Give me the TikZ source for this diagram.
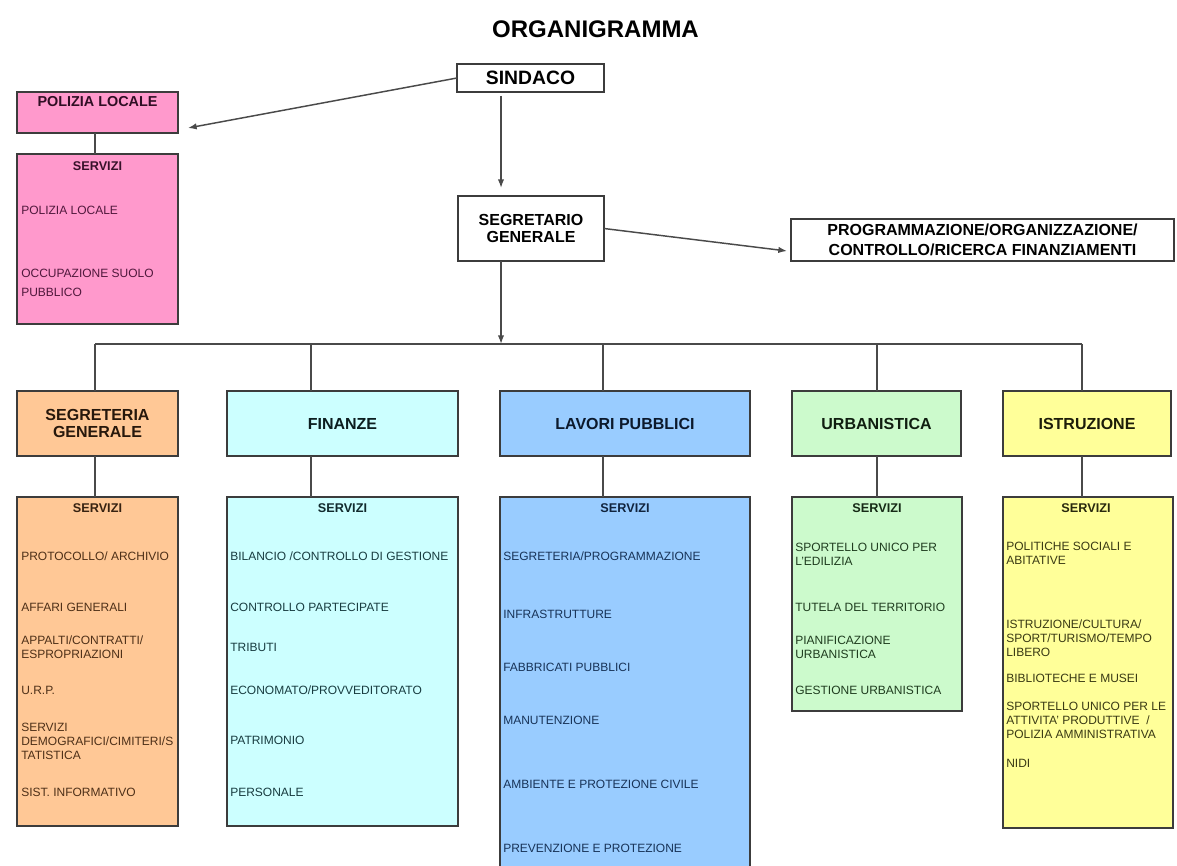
\documentclass[tikz,border=0pt]{standalone}
\usepackage{fontspec}
\setmainfont{Liberation Sans}
\usetikzlibrary{arrows.meta,calc}
\definecolor{pinkF}{HTML}{FF99CC}
\definecolor{orangeF}{HTML}{FFC896}
\definecolor{cyanF}{HTML}{CCFFFF}
\definecolor{blueF}{HTML}{99CCFF}
\definecolor{greenF}{HTML}{CCFACC}
\definecolor{yellowF}{HTML}{FFFF99}
\definecolor{pinkT}{HTML}{50183C}
\definecolor{orangeT}{HTML}{4E3018}
\definecolor{cyanT}{HTML}{183C40}
\definecolor{blueT}{HTML}{183358}
\definecolor{greenT}{HTML}{1F3C1F}
\definecolor{yellowT}{HTML}{3A3A14}
\definecolor{edgec}{HTML}{3C3C3C}
\definecolor{wirec}{HTML}{4A4A4A}
\newcommand\mkbox[8]{%
  \node[boxst, fill=#6, minimum width={(#4-#2)*0.75pt}, minimum height={(#5-#3)*0.75pt}, #7]
    (#1) at ({(#2+#4)/2},{(#3+#5)/2}) {#8};}
\begin{document}
\begin{tikzpicture}[x=0.75pt,y=-0.75pt,
  boxst/.style={draw=edgec, line width=1.2pt, inner sep=0pt, outer sep=0pt},
  wirest/.style={draw=wirec, line width=1.1pt},
  arr/.style={wirest, -{Latex[length=6.5pt,width=4.8pt]}},
  hdr/.style={font=\bfseries\fontsize{12}{12.75}\selectfont, align=center},
  serv/.style={inner sep=0pt, font=\bfseries\fontsize{9.5}{11}\selectfont},
  item/.style={anchor=west, inner sep=0pt, align=left, font=\fontsize{9}{10.5}\selectfont}]
\useasboundingbox (0,0) rectangle (1177,866);
\fill[white] (0,0) rectangle (1177,866);
\clip (0,0) rectangle (1177,866);

% title
\node[font=\bfseries\fontsize{18}{20}\selectfont, inner sep=0pt] (title) at (595.5,29) {ORGANIGRAMMA};

% top level
\mkbox{sind}{457}{64}{604}{92}{white}{font=\bfseries\fontsize{14.5}{16}\selectfont}{SINDACO}
\mkbox{segr}{458}{196}{604}{261}{white}{hdr}{SEGRETARIO\\GENERALE}
\mkbox{prog}{791}{219}{1174}{261}{white}{hdr, font=\bfseries\fontsize{12}{15}\selectfont}{PROGRAMMAZIONE/ORGANIZZAZIONE/\\CONTROLLO/RICERCA FINANZIAMENTI}

% polizia locale
\mkbox{pol}{17}{92}{178}{133}{pinkF}{}{}
\node[font=\bfseries\fontsize{10.8}{12}\selectfont, text=pinkT!60!black, inner sep=0pt] (polt) at (97.5,102) {POLIZIA LOCALE};
\mkbox{pols}{17}{154}{178}{324}{pinkF}{}{}
\node[serv, text=pinkT!70!black] (polsh) at (97.5,166) {SERVIZI};
\node[item, text=pinkT] (pol1) at (21,210) {POLIZIA LOCALE};
\node[item, text=pinkT] (pol2) at (21,273) {OCCUPAZIONE SUOLO};
\node[item, text=pinkT] (pol3) at (21,292) {PUBBLICO};

% departments
\mkbox{sg}{17}{391}{178}{456}{orangeF}{hdr, text=orangeT!50!black, font=\bfseries\fontsize{12}{12.5}\selectfont}{SEGRETERIA\\GENERALE}
\mkbox{fin}{227}{391}{458}{456}{cyanF}{hdr, text=cyanT!50!black}{FINANZE}
\mkbox{lav}{500}{391}{750}{456}{blueF}{hdr, text=blueT!50!black}{LAVORI PUBBLICI}
\mkbox{urb}{792}{391}{961}{456}{greenF}{hdr, text=greenT!50!black}{URBANISTICA}
\mkbox{ist}{1003}{391}{1171}{456}{yellowF}{hdr, text=yellowT!50!black}{ISTRUZIONE}

% service boxes
\mkbox{sgs}{17}{497}{178}{826}{orangeF}{}{}
\mkbox{fins}{227}{497}{458}{826}{cyanF}{}{}
\mkbox{lavs}{500}{497}{750}{890}{blueF}{}{}
\mkbox{urbs}{792}{497}{962}{711}{greenF}{}{}
\mkbox{ists}{1003}{497}{1173}{828}{yellowF}{}{}

% segreteria generale services
\node[serv, text=orangeT!70!black] (sgh) at (97.5,508) {SERVIZI};
\node[item, text=orangeT] (sg1) at (21,556) {PROTOCOLLO/ ARCHIVIO};
\node[item, text=orangeT] (sg2) at (21,607) {AFFARI GENERALI};
\node[item, text=orangeT] (sg3) at (21,647) {APPALTI/CONTRATTI/\\ESPROPRIAZIONI};
\node[item, text=orangeT] (sg4) at (21,690) {U.R.P.};
\node[item, text=orangeT] (sg5) at (21,741) {SERVIZI\\DEMOGRAFICI/CIMITERI/S\\TATISTICA};
\node[item, text=orangeT] (sg6) at (21,792) {SIST. INFORMATIVO};

% finanze services
\node[serv, text=cyanT!70!black] (finh) at (342.5,508) {SERVIZI};
\node[item, text=cyanT] (fin1) at (230,556) {BILANCIO /CONTROLLO DI GESTIONE};
\node[item, text=cyanT] (fin2) at (230,607) {CONTROLLO PARTECIPATE};
\node[item, text=cyanT] (fin3) at (230,647) {TRIBUTI};
\node[item, text=cyanT] (fin4) at (230,690) {ECONOMATO/PROVVEDITORATO};
\node[item, text=cyanT] (fin5) at (230,740) {PATRIMONIO};
\node[item, text=cyanT] (fin6) at (230,792) {PERSONALE};

% lavori pubblici services
\node[serv, text=blueT!70!black] (lavh) at (625,508) {SERVIZI};
\node[item, text=blueT] (lav1) at (503,556) {SEGRETERIA/PROGRAMMAZIONE};
\node[item, text=blueT] (lav2) at (503,614) {INFRASTRUTTURE};
\node[item, text=blueT] (lav3) at (503,667) {FABBRICATI PUBBLICI};
\node[item, text=blueT] (lav4) at (503,720) {MANUTENZIONE};
\node[item, text=blueT] (lav5) at (503,784) {AMBIENTE E PROTEZIONE CIVILE};
\node[item, text=blueT] (lav6) at (503,848) {PREVENZIONE E PROTEZIONE};

% urbanistica services
\node[serv, text=greenT!70!black] (urbh) at (877,508) {SERVIZI};
\node[item, text=greenT] (urb1) at (795,554.5) {SPORTELLO UNICO PER\\L'EDILIZIA};
\node[item, text=greenT] (urb2) at (795,607) {TUTELA DEL TERRITORIO};
\node[item, text=greenT] (urb3) at (795,647) {PIANIFICAZIONE\\URBANISTICA};
\node[item, text=greenT] (urb4) at (795,690) {GESTIONE URBANISTICA};

% istruzione services
\node[serv, text=yellowT!70!black] (isth) at (1086,508) {SERVIZI};
\node[item, text=yellowT] (ist1) at (1006,553.5) {POLITICHE SOCIALI E\\ABITATIVE};
\node[item, text=yellowT] (ist2) at (1006,638) {ISTRUZIONE/CULTURA/\\SPORT/TURISMO/TEMPO\\LIBERO};
\node[item, text=yellowT] (ist3) at (1006,678) {BIBLIOTECHE E MUSEI};
\node[item, text=yellowT] (ist4) at (1006,720) {SPORTELLO UNICO PER LE\\ATTIVITA' PRODUTTIVE~~/\\POLIZIA AMMINISTRATIVA};
\node[item, text=yellowT] (ist5) at (1006,763) {NIDI};

% connector helper coordinates
\coordinate (ax) at (501,344);
\coordinate (c1) at (95,344);
\coordinate (c2) at (311,344);
\coordinate (c3) at (603,344);
\coordinate (c4) at (877,344);
\coordinate (c5) at (1082,344);

% arrows
\draw[arr] (sind.west) -- ($(pol.east)+(10,15.5)$);
\draw[arr, shorten <=4*0.75pt, shorten >=8*0.75pt] (sind.south -| ax) -- (segr.north -| ax);
\draw[arr] (segr.south -| ax) -- (ax);
\draw[arr] (segr.east) -- ($(prog.west)+(-4,11)$);

% bus
\draw[wirest] (c1) -- (c5);
\draw[wirest] (c1) -- (sg.north -| c1);
\draw[wirest] (c2) -- (fin.north -| c2);
\draw[wirest] (c3) -- (lav.north -| c3);
\draw[wirest] (c4) -- (urb.north -| c4);
\draw[wirest] (c5) -- (ist.north -| c5);

% department to services
\draw[wirest] (pol.south -| c1) -- (pols.north -| c1);
\draw[wirest] (sg.south -| c1) -- (sgs.north -| c1);
\draw[wirest] (fin.south -| c2) -- (fins.north -| c2);
\draw[wirest] (lav.south -| c3) -- (lavs.north -| c3);
\draw[wirest] (urb.south -| c4) -- (urbs.north -| c4);
\draw[wirest] (ist.south -| c5) -- (ists.north -| c5);
\end{tikzpicture}
\end{document}
